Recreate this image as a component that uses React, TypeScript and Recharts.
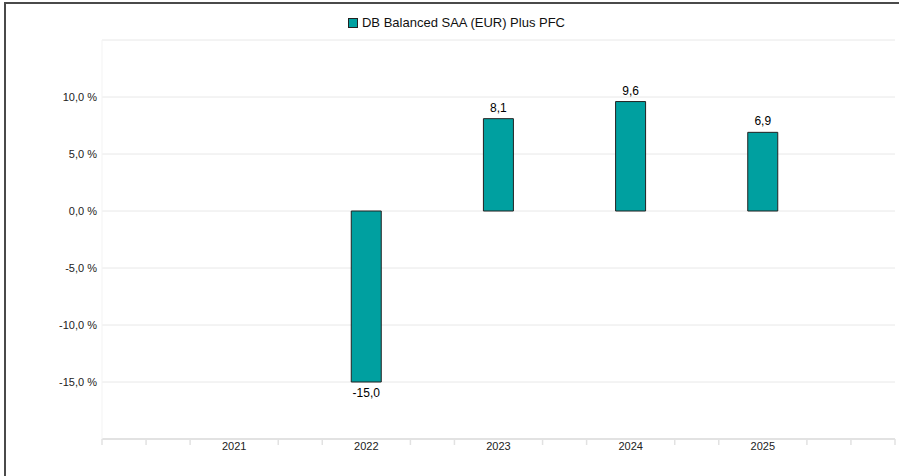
import { BarChart, Bar, XAxis, YAxis, CartesianGrid, Legend, LabelList } from "recharts";

const years = [2021, 2022, 2023, 2024, 2025];
const returns: (number | null)[] = [null, -15.0, 8.1, 9.6, 6.9];
const yTicks = [-20, -15, -10, -5, 0, 5, 10, 15];
const seriesName = "DB Balanced SAA (EUR) Plus PFC";

const data = years.map((year, i) => ({ year, value: returns[i] }));

// minor tick marks every third of a year between the labelled years
const xTicks: number[] = [];
for (let y = years[0] - 1; y < years[years.length - 1] + 1; y++) {
  xTicks.push(y, y + 1 / 3, y + 2 / 3);
}
xTicks.push(years[years.length - 1] + 1);

const FONT = "'Liberation Sans', Arial, sans-serif";
const TEAL = "#00a0a0";

const fmt = (v: number) => v.toFixed(1).replace(".", ",");

const XTick = (props: any) => {
  const { x, y, payload } = props;
  const v = payload.value;
  if (years.includes(v)) {
    return (
      <text x={x} y={y + 3} dy="0.71em" textAnchor="middle" fontSize={11} fill="#222" fontFamily={FONT}>
        {v}
      </text>
    );
  }
  return <line x1={x} x2={x} y1={y} y2={y + 6} stroke="#e2e2e2" strokeWidth={1.5} />;
};

const ValueLabel = (props: any) => {
  const { x, y, width, height, value } = props;
  if (value === null || value === undefined) return null;
  const top = Math.min(y, y + height);
  const bottom = Math.max(y, y + height);
  const cy = value >= 0 ? top - 11 : bottom + 11;
  return (
    <text x={x + width / 2} y={cy} textAnchor="middle" dominantBaseline="central" fontSize={12} fill="#000" fontFamily={FONT}>
      {fmt(value)}
    </text>
  );
};

const LegendContent = () => (
  <div style={{ display: "flex", justifyContent: "center", alignItems: "center", fontFamily: FONT, fontSize: 13, color: "#111", paddingLeft: 14 }}>
    <span style={{ width: 10, height: 10, background: TEAL, border: "1px solid #222", marginRight: 4, boxSizing: "border-box", display: "inline-block" }} />
    <span>{seriesName}</span>
  </div>
);

export default function App() {
  return (
    <div style={{ position: "fixed", left: 0, top: 0, width: 899, height: 476, background: "#fff", overflow: "hidden" }}>
      <div
        style={{
          position: "absolute",
          left: 4,
          top: 2,
          width: 895,
          height: 474,
          borderTop: "2px solid #4a4a4a",
          borderLeft: "2px solid #4a4a4a",
          boxSizing: "border-box",
        }}
      />
      <div style={{ position: "absolute", left: 0, top: 0 }}>
        <BarChart width={899} height={476} data={data} margin={{ top: 40, right: 4, bottom: 7, left: 0 }}>
          <CartesianGrid vertical={false} stroke="#e8e8e8" />
          <XAxis
            dataKey="year"
            type="number"
            domain={[years[0] - 1, years[years.length - 1] + 1]}
            ticks={xTicks}
            interval={0}
            height={30}
            tickLine={false}
            tickSize={0}
            tickMargin={0}
            axisLine={{ stroke: "#e2e2e2", strokeWidth: 2 }}
            tick={<XTick />}
          />
          <YAxis
            type="number"
            domain={[-20, 15]}
            ticks={yTicks}
            interval={0}
            width={102}
            tickLine={false}
            tickSize={3}
            tickMargin={2}
            axisLine={{ stroke: "#f3f3f3" }}
            tick={{ fontSize: 11, fill: "#222", fontFamily: FONT }}
            tickFormatter={(v: number) => (v === -20 || v === 15 ? "" : `${fmt(v)} %`)}
          />
          <Legend
            verticalAlign="middle"
            align="center"
            content={<LegendContent />}
            wrapperStyle={{ top: 15, left: 0, width: 899 }}
          />
          <Bar dataKey="value" name={seriesName} fill={TEAL} stroke="#222" strokeWidth={1} barSize={30} isAnimationActive={false}>
            <LabelList dataKey="value" content={<ValueLabel />} />
          </Bar>
        </BarChart>
      </div>
    </div>
  );
}
